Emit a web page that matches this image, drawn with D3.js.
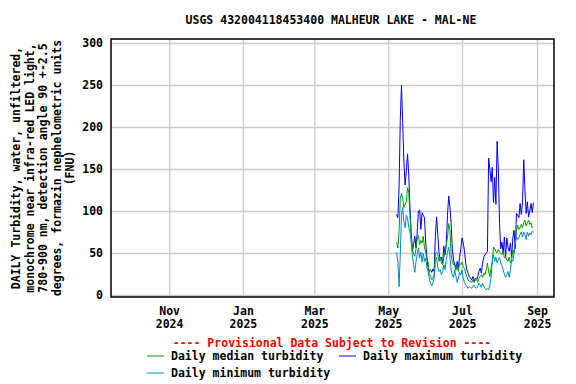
<!DOCTYPE html>
<html>
<head>
<meta charset="utf-8">
<script src="https://cdn.jsdelivr.net/npm/d3@7"></script>
<style>
  body { margin: 0; background: #fff; }
  text { font-family: "DejaVu Sans Mono", monospace; font-weight: bold; }
</style>
</head>
<body>
<div id="chart"></div>
<script>
// Daily values, 2025-05-08 .. 2025-08-29
const firstDay = new Date(2025, 4, 8);
const lastDay = new Date(2025, 7, 30);

const maxTurbidity = [
    96, 92, 128, 208, 250, 205, 158, 131, 148, 168,
    143, 105, 75, 52, 60, 70, 56, 75, 100, 101,
    78, 98, 95, 92, 62, 45, 32, 28, 30, 27,
    31, 28, 70, 93, 72, 50, 42, 45, 38, 58,
    48, 60, 95, 118, 105, 86, 55, 42, 35, 30,
    40, 32, 45, 55, 68, 62, 53, 38, 30, 26,
    22, 20, 18, 22, 15, 20, 18, 22, 28, 32,
    26, 38, 45, 48, 50, 52, 163, 150, 135, 152,
    110, 140, 108, 183, 150, 85, 55, 63, 50, 69,
    45, 68, 57, 52, 62, 45, 68, 77, 55, 97,
    95, 92, 109, 96, 110, 161, 125, 97, 111, 93,
    100, 109, 98, 110
];

const medianTurbidity = [
    63, 56, 75, 115, 121, 115, 104, 108, 111, 128,
    122, 95, 70, 56, 48, 46, 55, 68, 71, 60,
    65, 62, 70, 56, 51, 42, 39, 26, 22, 18,
    20, 25, 49, 51, 48, 40, 45, 38, 36, 45,
    52, 60, 68, 85, 78, 48, 40, 36, 39, 30,
    35, 28, 38, 36, 39, 33, 32, 26, 22, 18,
    16, 17, 15, 18, 16, 17, 19, 15, 20, 22,
    24, 21, 26, 24, 30, 38, 28, 22, 32, 38,
    57, 55, 52, 50, 54, 51, 50, 48, 52, 44,
    46, 42, 40, 45, 38, 42, 54, 50, 60, 77,
    83, 78, 80, 84, 80, 86, 89, 82, 86, 89,
    84, 86, 80, 81
];

const minTurbidity = [
    51, 39, 10, 48, 95, 104, 87, 80, 95, 92,
    80, 75, 63, 48, 36, 27, 40, 48, 56, 44,
    51, 39, 50, 40, 44, 33, 27, 20, 14, 11,
    15, 20, 40, 45, 33, 28, 30, 24, 28, 36,
    30, 42, 51, 57, 45, 30, 24, 21, 30, 22,
    15, 20, 27, 24, 30, 20, 15, 12, 10, 8,
    10, 9, 8, 10, 12, 9, 8, 10, 14, 12,
    9, 14, 10, 8, 6, 8, 6, 12, 20, 42,
    48, 40, 45, 38, 42, 45, 38, 35, 30, 25,
    21, 24, 28, 21, 30, 42, 40, 50, 63, 69,
    66, 68, 72, 75, 69, 75, 72, 66, 75, 70,
    74, 72, 76, 75
];

const yTicks = [0, 50, 100, 150, 200, 250, 300];
const xTicks = [
    new Date(2024, 10, 1), new Date(2025, 0, 1), new Date(2025, 2, 1),
    new Date(2025, 4, 1), new Date(2025, 6, 1), new Date(2025, 8, 1)
];
const xTickLabels = [['Nov', '2024'], ['Jan', '2025'], ['Mar', '2025'],
    ['May', '2025'], ['Jul', '2025'], ['Sep', '2025']];

const titleText = 'USGS 432004118453400 MALHEUR LAKE - MAL-NE';
const yLabelLines = [
    'DAILY Turbidity, water, unfiltered,',
    'monochrome near infra-red LED light,',
    '780-900 nm, detection angle 90 +-2.5',
    'degrees, formazin nephelometric units',
    '(FNU)'
];

const seriesNames = ['Daily median turbidity', 'Daily maximum turbidity', 'Daily minimum turbidity'];
const seriesColors = ['#00a000', '#0000ff', '#0088cc'];

drawChart();

function drawChart() {
    const width = 576;
    const height = 384;
    const left = 111, right = 554, top = 39, bottom = 297;

    const svg = d3.select('#chart').append('svg')
        .attr('width', width)
        .attr('height', height);

    const days = d3.timeDay.range(firstDay, lastDay);

    const xScale = d3.scaleTime()
        .domain([new Date(2024, 8, 14), new Date(2025, 8, 15)])
        .range([left, right]);

    const yScale = d3.scaleLinear()
        .domain([0, 300])
        .range([295, 43]);

    // Grid lines
    svg.append('g')
        .attr('transform', `translate(0,${bottom})`)
        .call(d3.axisBottom(xScale).tickValues(xTicks).tickSize(-(bottom - top)).tickFormat(''))
        .call(g => g.select('.domain').remove())
        .call(g => g.selectAll('.tick line').attr('stroke', '#cccccc').attr('stroke-width', 1.3));

    svg.append('g')
        .attr('transform', `translate(${left},0)`)
        .call(d3.axisLeft(yScale).tickValues(yTicks).tickSize(-(right - left)).tickFormat(''))
        .call(g => g.select('.domain').remove())
        .call(g => g.selectAll('.tick line').attr('stroke', '#cccccc').attr('stroke-width', 1.3));

    // Tick labels
    svg.append('g')
        .attr('transform', `translate(${left},0)`)
        .call(d3.axisLeft(yScale).tickValues(yTicks).tickSize(0).tickPadding(8))
        .call(g => g.select('.domain').remove())
        .call(g => g.selectAll('text')
            .attr('fill', '#000')
            .style('font-size', '11.5px')
            .style('font-family', '"DejaVu Sans Mono", monospace')
            .style('font-weight', 'bold'));

    svg.append('g')
        .attr('transform', `translate(0,${bottom})`)
        .call(d3.axisBottom(xScale).tickValues(xTicks).tickSize(0).tickPadding(10).tickFormat(''))
        .call(g => g.select('.domain').remove())
        .call(g => g.selectAll('.tick text').each(function(d, i) {
            const t = d3.select(this)
                .attr('fill', '#000')
                .style('font-size', '11.5px')
                .style('font-family', '"DejaVu Sans Mono", monospace')
                .style('font-weight', 'bold');
            t.append('tspan').attr('x', 0).attr('dy', '0.71em').text(xTickLabels[i][0]);
            t.append('tspan').attr('x', 0).attr('dy', '1.13em').text(xTickLabels[i][1]);
        }));

    // Series lines
    const line = d3.line()
        .x((d, i) => xScale(days[i]))
        .y(d => yScale(d));

    [maxTurbidity, medianTurbidity, minTurbidity].forEach((values, k) => {
        const color = [seriesColors[1], seriesColors[0], seriesColors[2]][k];
        svg.append('path')
            .datum(values)
            .attr('fill', 'none')
            .attr('stroke', color)
            .attr('stroke-width', 1)
            .attr('d', line);
    });

    // Frame
    svg.append('rect')
        .attr('x', left)
        .attr('y', top)
        .attr('width', right - left)
        .attr('height', bottom - top)
        .attr('fill', 'none')
        .attr('stroke', '#000')
        .attr('stroke-width', 1.5);

    // Title
    svg.append('text')
        .attr('x', 331)
        .attr('y', 24)
        .attr('text-anchor', 'middle')
        .style('font-size', '11.5px')
        .text(titleText);

    // Y axis label
    const yLabel = svg.append('text')
        .attr('transform', 'translate(20,168) rotate(-90)')
        .attr('text-anchor', 'middle')
        .style('font-size', '11.5px');
    yLabelLines.forEach((s, i) => {
        yLabel.append('tspan').attr('x', 0).attr('y', i * 13.5).text(s);
    });

    // Provisional note
    svg.append('text')
        .attr('x', 332)
        .attr('y', 347)
        .attr('text-anchor', 'middle')
        .attr('fill', '#ff0000')
        .style('font-size', '11.5px')
        .text('---- Provisional Data Subject to Revision ----');

    // Legend
    const legendPos = [[147, 356], [339, 356], [147, 373]];
    seriesNames.forEach((name, i) => {
        const [lx, ly] = legendPos[i];
        svg.append('line')
            .attr('x1', lx).attr('x2', lx + 17)
            .attr('y1', ly).attr('y2', ly)
            .attr('stroke', seriesColors[i])
            .attr('stroke-width', 1);
        svg.append('text')
            .attr('x', lx + 24)
            .attr('y', ly + 4)
            .style('font-size', '11.5px')
            .text(name);
    });
}
</script>
</body>
</html>
